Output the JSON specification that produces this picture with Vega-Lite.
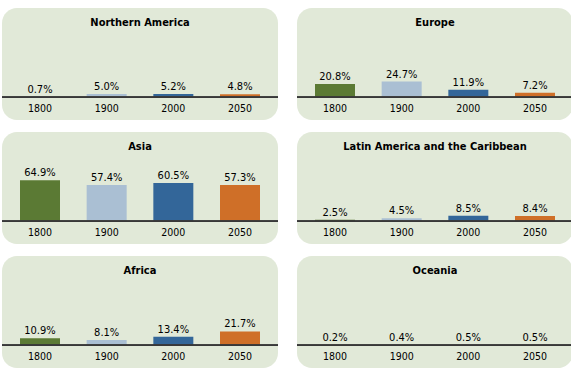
{
  "$schema": "https://vega.github.io/schema/vega-lite/v6.json",
  "padding": {"left": 1, "top": 8, "right": 0, "bottom": 0},
  "background": "white",
  "datasets": {
    "shares": [
      {"region": "Northern America", "year": "1800", "share": 0.007},
      {"region": "Northern America", "year": "1900", "share": 0.050},
      {"region": "Northern America", "year": "2000", "share": 0.052},
      {"region": "Northern America", "year": "2050", "share": 0.048},
      {"region": "Europe", "year": "1800", "share": 0.208},
      {"region": "Europe", "year": "1900", "share": 0.247},
      {"region": "Europe", "year": "2000", "share": 0.119},
      {"region": "Europe", "year": "2050", "share": 0.072},
      {"region": "Asia", "year": "1800", "share": 0.649},
      {"region": "Asia", "year": "1900", "share": 0.574},
      {"region": "Asia", "year": "2000", "share": 0.605},
      {"region": "Asia", "year": "2050", "share": 0.573},
      {"region": "Latin America and the Caribbean", "year": "1800", "share": 0.025},
      {"region": "Latin America and the Caribbean", "year": "1900", "share": 0.045},
      {"region": "Latin America and the Caribbean", "year": "2000", "share": 0.085},
      {"region": "Latin America and the Caribbean", "year": "2050", "share": 0.084},
      {"region": "Africa", "year": "1800", "share": 0.109},
      {"region": "Africa", "year": "1900", "share": 0.081},
      {"region": "Africa", "year": "2000", "share": 0.134},
      {"region": "Africa", "year": "2050", "share": 0.217},
      {"region": "Oceania", "year": "1800", "share": 0.002},
      {"region": "Oceania", "year": "1900", "share": 0.004},
      {"region": "Oceania", "year": "2000", "share": 0.005},
      {"region": "Oceania", "year": "2050", "share": 0.005}
    ]
  },
  "data": {"name": "shares"},
  "facet": {
    "field": "region",
    "type": "nominal",
    "sort": ["Northern America", "Europe", "Asia", "Latin America and the Caribbean", "Africa", "Oceania"],
    "header": {"labels": false, "title": null, "labelFontSize": 0, "labelPadding": 0, "labelExpr": "''"}
  },
  "columns": 2,
  "spacing": {"row": 12, "column": 17},
  "spec": {
    "width": 276,
    "height": 112,
    "encoding": {
      "x": {"field": "year", "type": "ordinal", "axis": null, "scale": {"paddingInner": 0.4, "paddingOuter": 0.27}}
    },
    "layer": [
      {
        "mark": {"type": "bar"},
        "encoding": {
          "y": {"field": "share", "type": "quantitative", "axis": null, "scale": {"domain": [-0.36, 1.41], "nice": false, "zero": false}},
          "color": {"field": "year", "type": "ordinal", "legend": null,
            "scale": {"domain": ["1800", "1900", "2000", "2050"], "range": ["#5b7a34", "#aabfd3", "#336699", "#cf6f28"]}}
        }
      },
      {
        "mark": {"type": "rule", "color": "#383838", "strokeWidth": 1.5},
        "encoding": {"y": {"datum": 0}, "x": null}
      },
      {
        "mark": {"type": "text", "font": "DejaVu Sans Condensed, DejaVu Sans", "fontSize": 11, "baseline": "alphabetic", "dy": -4, "color": "#000000"},
        "encoding": {
          "y": {"field": "share", "type": "quantitative"},
          "text": {"field": "share", "type": "quantitative", "format": ".1%"}
        }
      },
      {
        "mark": {"type": "text", "font": "DejaVu Sans Condensed, DejaVu Sans", "fontSize": 10.5, "baseline": "alphabetic", "color": "#000000"},
        "encoding": {
          "y": {"datum": -0.229},
          "text": {"field": "year", "type": "nominal"}
        }
      },
      {
        "transform": [{"aggregate": [{"op": "count", "as": "n"}], "groupby": ["region"]}],
        "mark": {"type": "text", "font": "DejaVu Sans Condensed, DejaVu Sans", "fontSize": 11, "fontWeight": "bold", "baseline": "alphabetic", "color": "#000000"},
        "encoding": {
          "x": null,
          "y": {"datum": 1.127},
          "text": {"field": "region", "type": "nominal"}
        }
      }
    ]
  },
  "config": {
    "view": {"fill": "#e1e9d8", "stroke": null, "cornerRadius": 15},
    "header": {"labels": false, "title": null, "labelFontSize": 0, "labelPadding": 0},
    "headerFacet": {"labels": false, "title": null, "labelFontSize": 0, "labelPadding": 0}
  }
}
